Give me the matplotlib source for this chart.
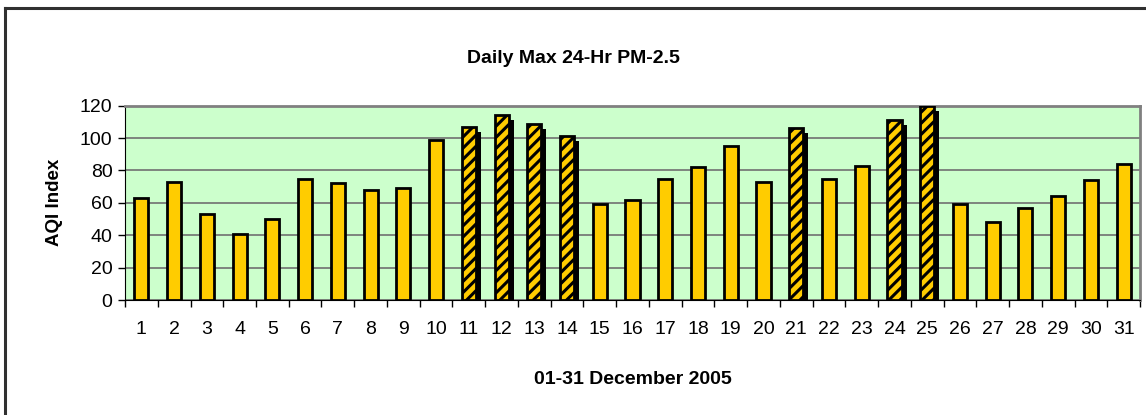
import matplotlib
matplotlib.use('Agg')
import matplotlib.pyplot as plt
import matplotlib.transforms as mtransforms
from matplotlib.lines import Line2D

plt.rcParams['font.family'] = ['Liberation Sans', 'DejaVu Sans']
plt.rcParams['hatch.linewidth'] = 2.2

days = list(range(1, 32))
aqi = [63, 73, 53, 41, 50, 75, 72, 68, 69, 99, 107, 114, 109, 101, 59, 62,
       75, 82, 95, 73, 106, 75, 83, 111, 120, 59, 48, 57, 64, 74, 84]
# days above 100 shown hatched with a drop shadow
high_days = [11, 12, 13, 14, 21, 24, 25]

fig = plt.figure(figsize=(11.46, 4.15), dpi=100)
ax = fig.add_axes([0.1091, 0.2771, 0.8857, 0.4682])
ax.set_facecolor('#CCFFCC')

width = 0.43
shadow = mtransforms.ScaledTranslation(5 / 100, -5 / 100, fig.dpi_scale_trans)
for d, v in zip(days, aqi):
    if d in high_days:
        ax.bar(d, v, width, color='black', edgecolor='black', linewidth=0,
               transform=ax.transData + shadow, zorder=2)
        ax.bar(d, v, width, facecolor='#FFCC00', edgecolor='black',
               linewidth=2, hatch='///', zorder=3)
    else:
        ax.bar(d, v, width, facecolor='#FFCC00', edgecolor='black',
               linewidth=2, zorder=3)

ax.set_xlim(0.5, 31.5)
ax.set_ylim(0, 120)
ax.set_yticks(range(0, 121, 20))
ax.yaxis.grid(True, color='#707070', linewidth=1.2)
ax.set_axisbelow(True)

ax.set_xticks(days)
ax.set_xticklabels([str(d) for d in days])
ax.set_xticks([d + 0.5 for d in range(0, 32)], minor=True)
ax.tick_params(axis='x', which='major', length=0, pad=15, labelsize=14)
ax.tick_params(axis='x', which='minor', length=5, width=1, direction='out')
ax.tick_params(axis='y', length=5, width=1, labelsize=14, pad=4)

for side in ['top', 'right']:
    ax.spines[side].set_color('#808080')
    ax.spines[side].set_linewidth(2)
ax.spines['left'].set_color('black')
ax.spines['bottom'].set_color('black')

ax.set_ylabel('AQI Index', fontsize=13.5, fontweight='bold', labelpad=12)
ax.set_xlabel('01-31 December 2005', fontsize=14, fontweight='bold', labelpad=24)
fig.text(0.5, 0.86, 'Daily Max 24-Hr PM-2.5', ha='center', va='center',
         fontsize=14, fontweight='bold')

# outer chart frame (left and top edges visible)
fig.add_artist(Line2D([0.004, 0.004], [0, 0.98], color='#303030', linewidth=2.2,
                      transform=fig.transFigure))
fig.add_artist(Line2D([0.004, 1.0], [0.98, 0.98], color='#303030', linewidth=2.2,
                      transform=fig.transFigure))

fig.savefig('out.png', dpi=100)
